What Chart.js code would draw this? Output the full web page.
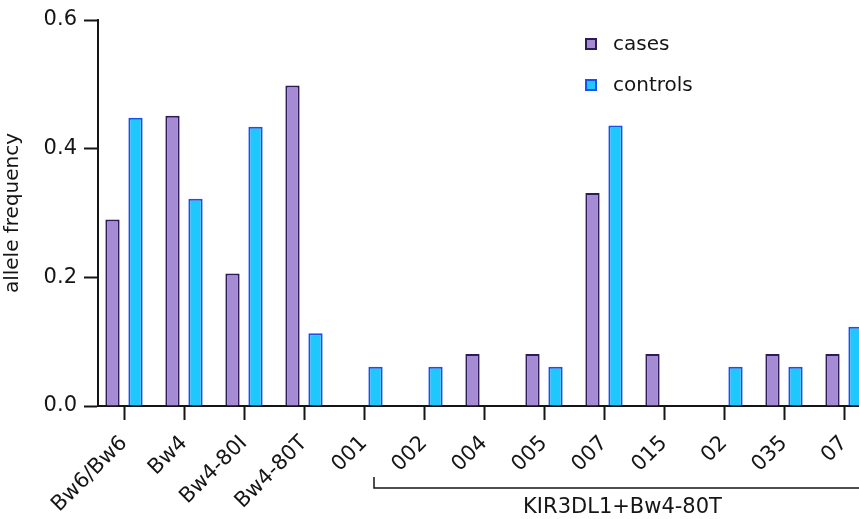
<!DOCTYPE html>
<html>
<head>
<meta charset="utf-8">
<script src="https://cdn.jsdelivr.net/npm/chart.js@4.4.1/dist/chart.umd.min.js"></script>
<style>
    html, body { margin: 0; padding: 0; background: #fff; overflow: hidden; }
    #wrap { width: 859px; height: 519px; overflow: hidden; position: relative; }
    canvas { display: block; }
</style>
</head>
<body>
<div id="wrap"><canvas id="myChart" width="878" height="519"></canvas></div>
<script>
"use strict";
// data
const categories = ["Bw6/Bw6", "Bw4", "Bw4-80I", "Bw4-80T", "001", "002", "004", "005", "007", "015", "02", "035", "07"];
const casesValues = [0.29, 0.451, 0.206, 0.498, 0, 0, 0.081, 0.081, 0.331, 0.081, 0, 0.081, 0.081];
const controlsValues = [0.448, 0.322, 0.434, 0.113, 0.061, 0.061, 0, 0.061, 0.436, 0, 0.061, 0.061, 0.123];
const yTicks = [0, 0.2, 0.4, 0.6];
const groupLabel = "KIR3DL1+Bw4-80T";
const groupFirst = 4;
const groupLast = 12;

const colors = {
    casesFill: "#a58bd4",
    casesLine: "#2d1b5a",
    controlsFill: "#1ec8ff",
    controlsLine: "#1a50ee",
    axis: "#151515"
};
const fontFamily = "'DejaVu Sans', sans-serif";
Chart.defaults.font.family = fontFamily;
Chart.defaults.color = colors.axis;

// bracket under the KIR3DL1 categories
const groupBracket = {
    id: "groupBracket",
    afterDraw(chart) {
        const xs = chart.scales.x;
        const c = chart.ctx;
        const left = xs.getPixelForValue(groupFirst) + 10;
        const right = xs.getPixelForValue(groupLast) + 27;
        const y = 488;
        c.save();
        c.strokeStyle = colors.axis;
        c.lineWidth = 1.5;
        c.beginPath();
        c.moveTo(left, y - 11);
        c.lineTo(left, y);
        c.lineTo(right, y);
        c.lineTo(right, y - 11);
        c.stroke();
        c.fillStyle = colors.axis;
        c.font = "21px " + fontFamily;
        c.textAlign = "center";
        c.textBaseline = "alphabetic";
        c.fillText(groupLabel, (left + right) / 2, 513);
        c.restore();
    }
};

// legend in the upper right
const legendBox = {
    id: "legendBox",
    afterDraw(chart) {
        const c = chart.ctx;
        c.save();
        c.font = "20px " + fontFamily;
        c.textBaseline = "alphabetic";
        c.textAlign = "left";
        chart.data.datasets.forEach((ds, i) => {
            const top = 38 + i * 41;
            c.fillStyle = ds.backgroundColor;
            c.fillRect(585, top, 12, 12);
            c.strokeStyle = ds.borderColor;
            c.lineWidth = 2;
            c.strokeRect(586, top + 1, 10, 10);
            c.fillStyle = colors.axis;
            c.fillText(ds.label, 613, top + 12);
        });
        c.restore();
    }
};

const ctx = document.getElementById("myChart");
const chart = new Chart(ctx, {
    type: "bar",
    data: {
        labels: categories,
        datasets: [
            {
                label: "cases",
                data: casesValues,
                backgroundColor: colors.casesFill,
                borderColor: colors.casesLine,
                borderWidth: 2
            },
            {
                label: "controls",
                data: controlsValues,
                backgroundColor: colors.controlsFill,
                borderColor: colors.controlsLine,
                borderWidth: 2
            }
        ]
    },
    options: {
        responsive: false,
        animation: false,
        layout: { padding: { top: 20, left: 0, right: 0, bottom: 0 } },
        datasets: { bar: { categoryPercentage: 0.767, barPercentage: 0.62 } },
        plugins: {
            legend: { display: false },
            tooltip: { enabled: false }
        },
        scales: {
            x: {
                offset: true,
                grid: {
                    drawOnChartArea: false,
                    offset: false,
                    tickLength: 14,
                    tickWidth: 2,
                    tickColor: colors.axis
                },
                border: { color: colors.axis, width: 2 },
                ticks: {
                    autoSkip: false,
                    minRotation: 45,
                    maxRotation: 45,
                    padding: 11,
                    color: colors.axis,
                    font: { size: 21 }
                },
                // first category sits a little closer to the y axis
                afterBuildTicks: (s) => { s._startValue = -0.5 + 4 / 60; },
                afterFit: (s) => { s.height = 113; s.paddingLeft = 0; s.paddingRight = 0; }
            },
            y: {
                min: 0,
                max: 0.6,
                afterBuildTicks: (s) => { s.ticks = yTicks.map((v) => ({ value: v })); },
                grid: {
                    drawOnChartArea: false,
                    tickLength: 14,
                    tickWidth: 2,
                    tickColor: colors.axis
                },
                border: { color: colors.axis, width: 2 },
                ticks: {
                    padding: 7,
                    color: colors.axis,
                    font: { size: 21 },
                    callback: (v) => Number(v).toFixed(1)
                },
                title: {
                    display: true,
                    text: "allele frequency",
                    color: colors.axis,
                    font: { size: 20 },
                    padding: { top: 1, bottom: 0 }
                },
                afterFit: (s) => { s.width = 98; }
            }
        }
    },
    plugins: [groupBracket, legendBox]
});
</script>
</body>
</html>
